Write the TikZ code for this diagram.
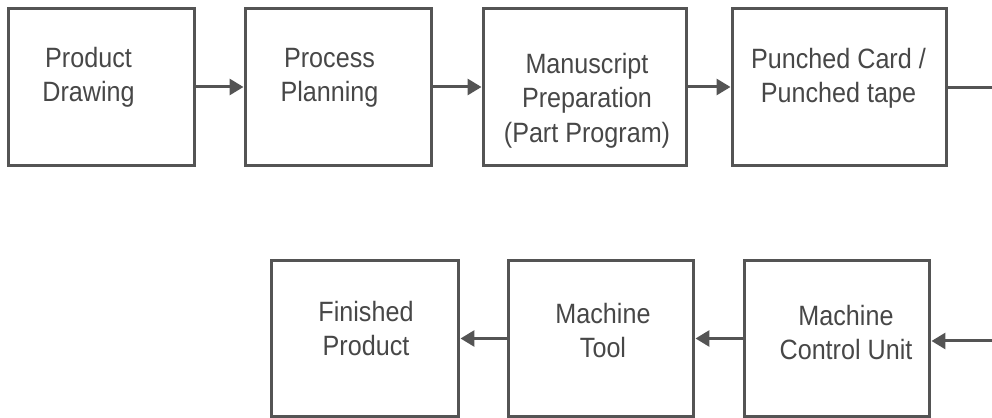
\documentclass[tikz,border=0pt]{standalone}
\usepackage{fontspec}
\setmainfont{Liberation Sans}[FakeStretch=0.9]
\usetikzlibrary{arrows.meta}
\definecolor{inkgray}{HTML}{474747}
\definecolor{linegray}{HTML}{545454}

\begin{document}
\begin{tikzpicture}[
    x=0.02cm, y=-0.02cm,
    stage/.style={draw=linegray, line width=0.06cm, minimum height=3.14cm,
                  inner sep=0pt},
    caption/.style={align=center, text=inkgray, inner sep=0pt,
                    font=\fontsize{15.9}{19.6}\selectfont},
    flow/.style={draw=linegray, line width=0.06cm},
    >={Triangle[length=0.28cm, width=0.32cm]}
  ]
  \useasboundingbox (0,0) rectangle (992,418);

  % top row, left to right
  \foreach \nm/\cx/\w/\dx/\dy/\txt in {
      pd/101.5/3.74/-0.26/0.2/{Product\\Drawing},
      pp/338.5/3.74/-0.18/0.18/{Process\\Planning},
      mp/585/4.08/0.04/-0.27/{Manuscript\\Preparation\\(Part Program)},
      pc/839.5/4.30/-0.02/0.18/{Punched Card /\\Punched tape}} {
    \node[stage, minimum width=\w cm,
          label={[caption, xshift=\dx cm, yshift=\dy cm]center:{\txt}}]
      (\nm) at (\cx, 87) {};
  }

  % bottom row, right to left
  \foreach \nm/\cx/\w/\dx/\dy/\txt in {
      mcu/837/3.72/0.18/0.12/{Machine\\Control Unit},
      mt/601/3.72/0.04/0.16/{Machine\\Tool},
      fp/365/3.76/0.02/0.2/{Finished\\Product}} {
    \node[stage, minimum width=\w cm,
          label={[caption, xshift=\dx cm, yshift=\dy cm]center:{\txt}}]
      (\nm) at (\cx, 338.5) {};
  }

  \coordinate (out) at (992, 88);
  \coordinate (feed) at (992, 341);

  \draw[flow, ->] (pd) -- (pp);
  \draw[flow, ->] (pp) -- (mp);
  \draw[flow, ->] (mp) -- (pc);
  \draw[flow] (pc.east |- out) -- (out);
  \draw[flow, ->] (feed) -- (feed -| mcu.east);
  \draw[flow, ->] (mcu) -- (mt);
  \draw[flow, ->] (mt) -- (fp);
\end{tikzpicture}
\end{document}
